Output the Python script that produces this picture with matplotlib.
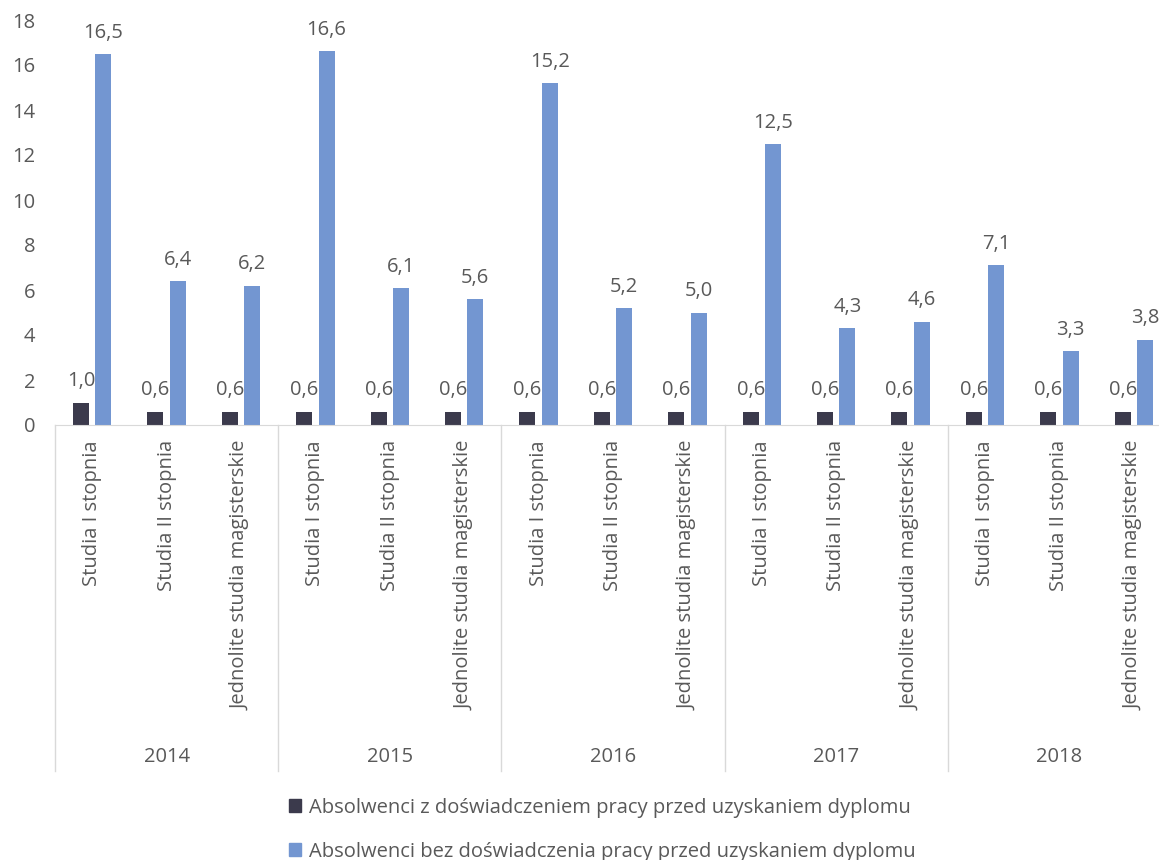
import numpy as np
import matplotlib.pyplot as plt
from matplotlib.transforms import blended_transform_factory
from matplotlib.patches import Patch

plt.rcParams['font.family'] = ['Open Sans', 'DejaVu Sans']

years = ['2014', '2015', '2016', '2017', '2018']
levels = ['Studia I stopnia', 'Studia II stopnia', 'Jednolite studia magisterskie']
with_exp = [1.0, 0.6, 0.6, 0.6, 0.6, 0.6, 0.6, 0.6, 0.6, 0.6, 0.6, 0.6, 0.6, 0.6, 0.6]
without_exp = [16.5, 6.4, 6.2, 16.6, 6.1, 5.6, 15.2, 5.2, 5.0, 12.5, 4.3, 4.6, 7.1, 3.3, 3.8]
series_names = ['Absolwenci z doświadczeniem pracy przed uzyskaniem dyplomu',
                'Absolwenci bez doświadczenia pracy przed uzyskaniem dyplomu']

c_dark = '#3B3A4C'
c_blue = '#7396D1'
c_text = '#595959'
c_line = '#D9D9D9'
fs = 14.5

fig = plt.figure(figsize=(11.59, 8.6), dpi=100)
ax = fig.add_axes([55 / 1159, 435 / 860, 1116 / 1159, 405 / 860])

x = np.arange(len(with_exp))
w = 0.215
b1 = ax.bar(x - 0.15, with_exp, w, color=c_dark)
b2 = ax.bar(x + 0.15, without_exp, w, color=c_blue)

def fmt(v):
    return f'{v:.1f}'.replace('.', ',')

for bars, vals in ((b1, with_exp), (b2, without_exp)):
    for r, v in zip(bars, vals):
        ax.annotate(fmt(v), (r.get_x() + r.get_width() / 2, v),
                    xytext=(0, 8), textcoords='offset points',
                    ha='center', va='bottom', fontsize=fs, color=c_text)

ax.set_xlim(-0.5, len(x) - 0.5)
ax.set_ylim(0, 18)
ax.set_yticks(range(0, 19, 2))
ax.set_xticks(x)
ax.set_xticklabels(levels * len(years), rotation=90, va='top', ha='center')
ax.tick_params(axis='both', length=0, labelsize=fs, labelcolor=c_text)
ax.tick_params(axis='x', pad=11)
ax.tick_params(axis='y', pad=14)

for s in ('top', 'right', 'left'):
    ax.spines[s].set_visible(False)
ax.spines['bottom'].set_color(c_line)

# year groups below the category labels
tr = blended_transform_factory(ax.transData, ax.transAxes)
for i, yr in enumerate(years):
    ax.text(i * 3 + 1, -0.82, yr, transform=tr, ha='center', va='center',
            fontsize=fs, color=c_text)
for b in np.arange(len(years) + 1) * 3 - 0.5:
    ax.plot([b, b], [0, -0.855], transform=tr, color=c_line, lw=1, clip_on=False)

handles = [Patch(color=c_dark), Patch(color=c_blue)]
fig.legend(handles, series_names, loc='center', bbox_to_anchor=(0.52, 0.035),
           frameon=False, fontsize=fs, labelcolor=c_text, handlelength=0.6,
           handleheight=0.6, handletextpad=0.4, labelspacing=1.2)

fig.savefig('out.png', dpi=100)
